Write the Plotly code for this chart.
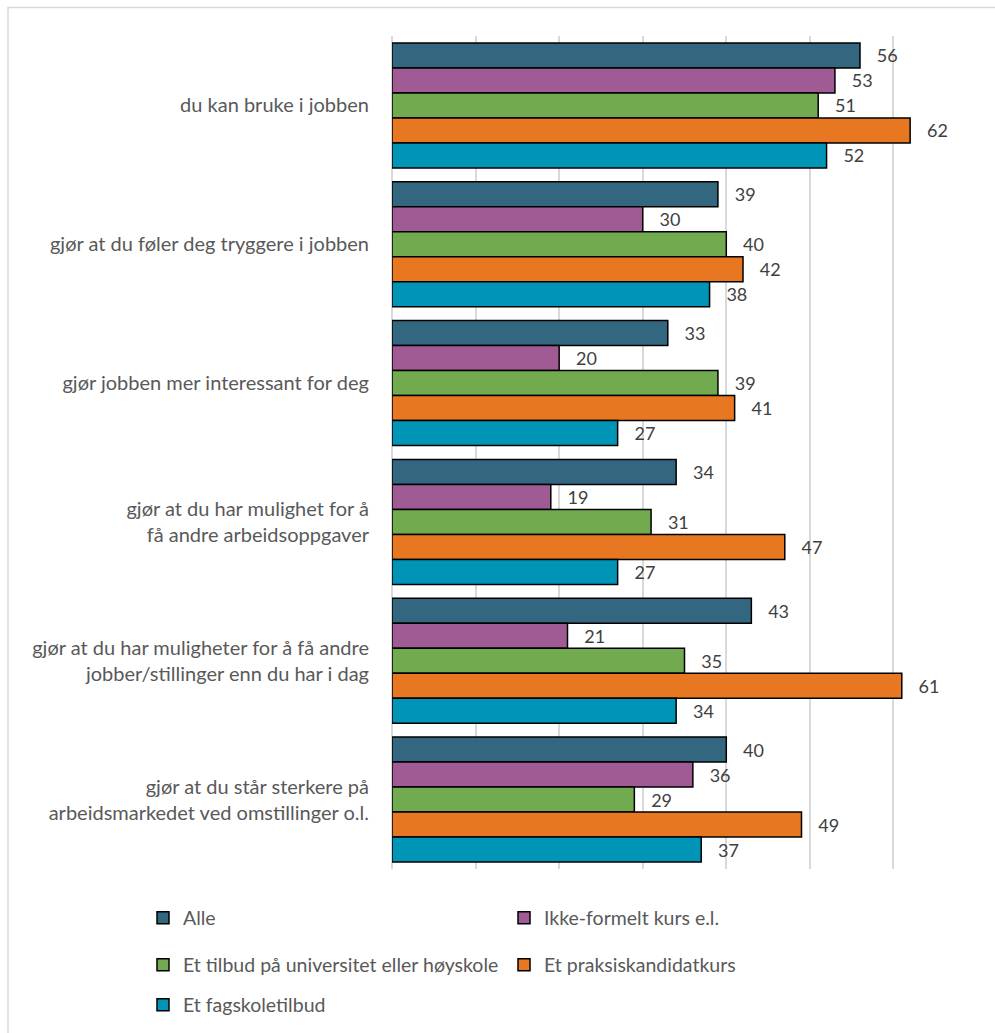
import plotly.graph_objects as go

categories = [
    "du kan bruke i jobben",
    "gjør at du føler deg tryggere i jobben",
    "gjør jobben mer interessant for deg",
    "gjør at du har mulighet for å<br>få andre arbeidsoppgaver",
    "gjør at du har muligheter for å få andre<br>jobber/stillinger enn du har i dag",
    "gjør at du står sterkere på<br>arbeidsmarkedet ved omstillinger o.l.",
]
series_names = [
    "Alle",
    "Ikke-formelt kurs e.l.",
    "Et tilbud på universitet eller høyskole",
    "Et praksiskandidatkurs",
    "Et fagskoletilbud",
]
alle = [56, 39, 33, 34, 43, 40]
ikke_formelt = [53, 30, 20, 19, 21, 36]
universitet = [51, 40, 39, 31, 35, 29]
praksis = [62, 42, 41, 47, 61, 49]
fagskole = [52, 38, 27, 27, 34, 37]
series_values = [alle, ikke_formelt, universitet, praksis, fagskole]
colors = ["#33667F", "#A05A94", "#72AA50", "#E87722", "#0095B6"]
legend_ids = ["legend", "legend", "legend2", "legend2", "legend3"]

FONT = "Lato"
W, H = 995, 1033
L, R, T, B = 392, 18, 36, 164
pw, ph = W - L - R, H - T - B

def px_x(p):
    return (p - L) / pw

def px_y(p):
    return (H - B - p) / ph

fig = go.Figure()
for name, vals, col, lg in zip(series_names, series_values, colors, legend_ids):
    fig.add_trace(go.Bar(
        y=categories, x=vals, name=name, orientation="h",
        marker=dict(color=col, line=dict(color="#000000", width=1.5)),
        text=vals, texttemplate="\u00a0\u00a0\u00a0%{x}", textposition="outside",
        textfont=dict(family=FONT, size=18, color="#404040"),
        constraintext="none", cliponaxis=False, legend=lg,
    ))

legend_common = dict(
    orientation="h", xanchor="left", yanchor="middle",
    font=dict(family=FONT, size=19.5, color="#595959"),
    entrywidth=316, bgcolor="rgba(0,0,0,0)", itemclick=False,
)

fig.update_layout(
    width=W, height=H,
    margin=dict(l=L, r=R, t=T, b=B, autoexpand=False),
    barmode="group", bargap=0.1, bargroupgap=0,
    plot_bgcolor="white", paper_bgcolor="white",
    font=dict(family=FONT, size=16, color="#595959"),
    xaxis=dict(range=[0, 70], dtick=10, showticklabels=False,
               showgrid=True, gridcolor="#d9d9d9", gridwidth=1.5,
               zeroline=True, zerolinecolor="#d9d9d9", zerolinewidth=1.5,
               fixedrange=True),
    yaxis=dict(autorange="reversed", showgrid=False, ticks="",
               ticklabelstandoff=22,
               tickfont=dict(family=FONT, size=20, color="#595959")),
    legend=dict(x=px_x(143), y=px_y(918), **legend_common),
    legend2=dict(x=px_x(143), y=px_y(965), **legend_common),
    legend3=dict(x=px_x(143), y=px_y(1005), **legend_common),
    shapes=[dict(type="rect", xref="paper", yref="paper",
                 x0=px_x(8), x1=px_x(1010), y0=px_y(1050), y1=px_y(7.5),
                 line=dict(color="#d9d9d9", width=1.5), layer="below")],
)

fig.write_html("out.html")
